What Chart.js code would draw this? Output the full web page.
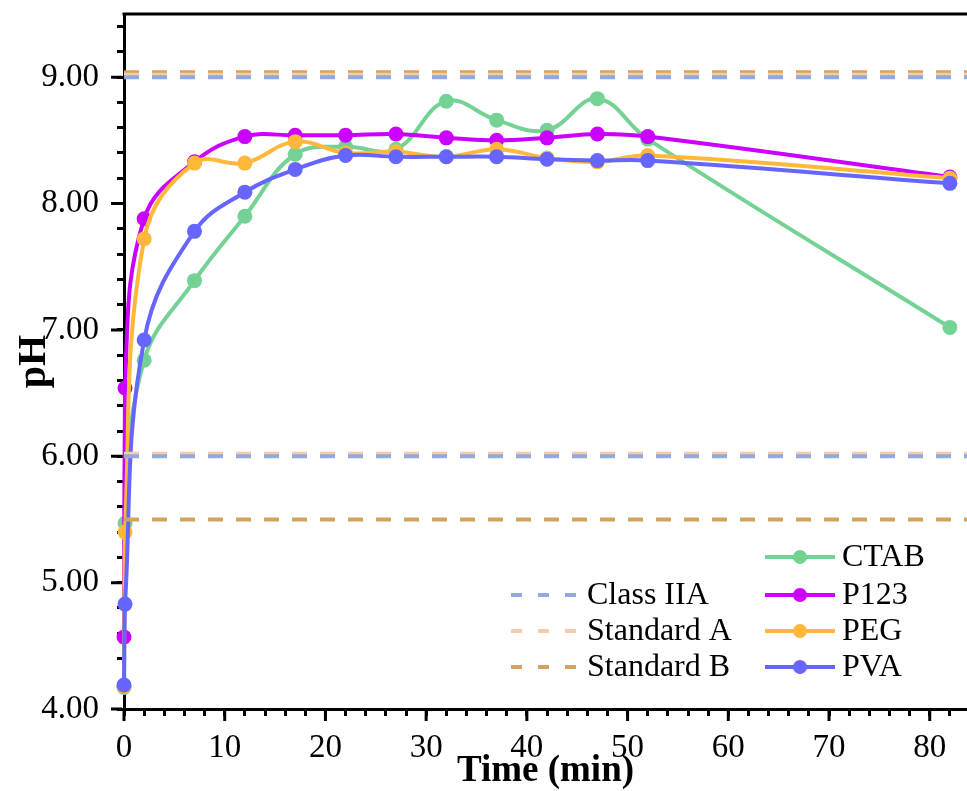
<!DOCTYPE html>
<html>
<head>
<meta charset="utf-8">
<script src="https://cdn.jsdelivr.net/npm/chart.js@4"></script>
<style>
  body { margin: 0; background: #fff; }
  #wrap { width: 967px; height: 791px; position: relative; }
</style>
</head>
<body>
<div id="wrap"><canvas id="myChart"></canvas></div>
<script>
// time (min); first two readings were taken right at the start
const times = [0, 0.1, 2, 7, 12, 17, 22, 27, 32, 37, 42, 47, 52, 82];

const ctabPH = [4.17, 5.47, 6.76, 7.39, 7.90, 8.39, 8.45, 8.43, 8.81, 8.66, 8.58, 8.83, 8.51, 7.02];
const p123PH = [4.57, 6.54, 7.88, 8.33, 8.53, 8.54, 8.54, 8.55, 8.52, 8.50, 8.52, 8.55, 8.53, 8.21];
const pegPH  = [4.18, 5.40, 7.72, 8.32, 8.32, 8.49, 8.40, 8.41, 8.37, 8.43, 8.36, 8.33, 8.38, 8.20];
const pvaPH  = [4.19, 4.83, 6.92, 7.78, 8.09, 8.27, 8.38, 8.37, 8.37, 8.37, 8.35, 8.34, 8.34, 8.16];

// limit lines [lower, upper]
const limitX = [0, 86];
const classIIA  = [6.00, 9.00];
const standardA = [6.02, 9.02];
const standardB = [5.50, 9.04];

const yTicks = [4, 5, 6, 7, 8, 9];
const xTicks = [0, 10, 20, 30, 40, 50, 60, 70, 80];

const serif = "'Liberation Serif', 'Times New Roman', serif";

function toPoints(vals) {
    return vals.map((v, i) => ({ x: times[i], y: v }));
}

function series(label, color, vals, order) {
    return {
        label: label,
        data: toPoints(vals),
        borderColor: color,
        backgroundColor: color,
        borderWidth: 4,
        pointRadius: 7.5,
        pointHoverRadius: 7.5,
        pointBorderWidth: 0,
        tension: 0.4,
        clip: false,
        order: order,
        legendCol: 2
    };
}

function limitLines(label, color, vals, order) {
    return vals.map((v, i) => ({
        label: label,
        data: [{ x: limitX[0], y: v }, { x: limitX[1], y: v }],
        borderColor: color,
        backgroundColor: color,
        borderWidth: 4,
        borderDash: [15, 13],
        pointRadius: 0,
        tension: 0,
        order: order,
        legendCol: i === 0 ? 1 : 0
    }));
}

const datasets = [
    series('CTAB', '#74D294', ctabPH, 6),
    series('P123', '#CC00FF', p123PH, 5),
    series('PEG', '#FFB83A', pegPH, 4),
    series('PVA', '#6666FF', pvaPH, 3),
    ...limitLines('Class IIA', '#8FAADC', classIIA, 0),
    ...limitLines('Standard A', '#F8CBAD', standardA, 1),
    ...limitLines('Standard B', '#D3A362', standardB, 2)
];

// frame top edge, long major ticks and the two-column legend
const extrasPlugin = {
    id: 'extras',
    afterDraw(chart) {
        const ctx = chart.ctx;
        const area = chart.chartArea;
        const xs = chart.scales.x, ys = chart.scales.y;
        ctx.save();
        ctx.strokeStyle = '#000';
        ctx.lineWidth = 3;
        ctx.beginPath();
        ctx.moveTo(area.left - 1.5, area.top);
        ctx.lineTo(chart.width, area.top);
        ctx.stroke();

        ctx.beginPath();
        yTicks.forEach(v => {
            const py = ys.getPixelForValue(v);
            ctx.moveTo(area.left - 13, py);
            ctx.lineTo(area.left - 2, py);
        });
        xTicks.forEach(v => {
            const px = xs.getPixelForValue(v);
            ctx.moveTo(px, area.bottom + 2);
            ctx.lineTo(px, area.bottom + 12);
        });
        ctx.stroke();

        ctx.font = '32px ' + serif;
        ctx.textBaseline = 'middle';
        ctx.fillStyle = '#000';

        const rowY = [557, 595, 631, 667];
        const mains = chart.data.datasets.filter(d => d.legendCol === 2);
        mains.forEach((d, i) => {
            const y = rowY[i];
            ctx.strokeStyle = d.borderColor;
            ctx.lineWidth = 4;
            ctx.setLineDash([]);
            ctx.beginPath();
            ctx.moveTo(765, y);
            ctx.lineTo(835, y);
            ctx.stroke();
            ctx.fillStyle = d.borderColor;
            ctx.beginPath();
            ctx.arc(800, y, 7, 0, Math.PI * 2);
            ctx.fill();
            ctx.fillStyle = '#000';
            ctx.fillText(d.label, 842, y + 1);
        });

        const limits = chart.data.datasets.filter(d => d.legendCol === 1);
        limits.forEach((d, i) => {
            const y = rowY[i + 1];
            ctx.strokeStyle = d.borderColor;
            ctx.lineWidth = 4;
            ctx.setLineDash([11, 16]);
            ctx.beginPath();
            ctx.moveTo(511, y);
            ctx.lineTo(577, y);
            ctx.stroke();
            ctx.fillStyle = '#000';
            ctx.fillText(d.label, 587, y + 1);
        });
        ctx.restore();
    }
};

const canvas = document.getElementById('myChart');
const ctx = canvas.getContext('2d');

new Chart(ctx, {
    type: 'line',
    data: { datasets: datasets },
    plugins: [extrasPlugin],
    options: {
        responsive: true,
        maintainAspectRatio: false,
        animation: false,
        layout: { autoPadding: false, padding: { top: 14, left: 0, right: 0, bottom: 0 } },
        plugins: {
            legend: { display: false },
            tooltip: { enabled: false }
        },
        scales: {
            x: {
                type: 'linear',
                min: 0,
                max: 83.7,
                afterFit(scale) {
                    scale.height = 82;
                    scale.paddingRight = 0;
                },
                ticks: {
                    stepSize: 2,
                    includeBounds: false,
                    autoSkip: false,
                    maxRotation: 0,
                    padding: 13,
                    color: '#000',
                    font: { family: serif, size: 33 },
                    callback: v => (Math.abs(v % 10) < 1e-6 ? String(Math.round(v)) : '')
                },
                grid: {
                    drawOnChartArea: false,
                    drawTicks: true,
                    tickLength: 7,
                    tickWidth: 3,
                    tickColor: '#000'
                },
                border: { color: '#000', width: 3 },
                title: {
                    display: true,
                    text: 'Time (min)',
                    color: '#000',
                    font: { family: serif, size: 37, weight: 'bold' },
                    padding: { top: 0, bottom: -3 }
                }
            },
            y: {
                min: 4,
                max: 9.5,
                afterFit(scale) {
                    scale.width = 124;
                    scale.paddingTop = 0;
                    scale.paddingBottom = 0;
                },
                ticks: {
                    stepSize: 0.2,
                    includeBounds: false,
                    autoSkip: false,
                    padding: 18,
                    color: '#000',
                    font: { family: serif, size: 33 },
                    callback: v => (Math.abs(v - Math.round(v)) < 1e-6 ? v.toFixed(2) : '')
                },
                grid: {
                    drawOnChartArea: false,
                    drawTicks: true,
                    tickLength: 7,
                    tickWidth: 3,
                    tickColor: '#000'
                },
                border: { color: '#000', width: 3 },
                title: {
                    display: true,
                    text: 'pH',
                    color: '#000',
                    font: { family: serif, size: 40, weight: 'bold' },
                    padding: { top: 11, bottom: 0 }
                }
            }
        }
    }
});
</script>
</body>
</html>
